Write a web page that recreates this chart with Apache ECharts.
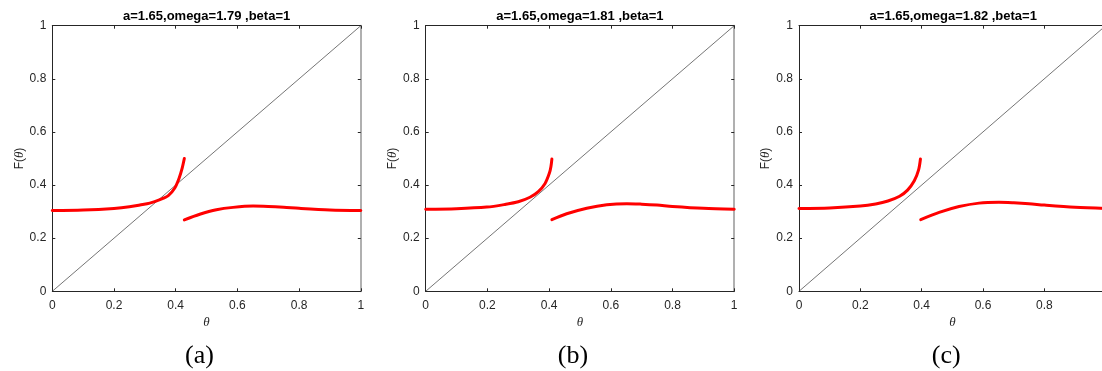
<!DOCTYPE html>
<html>
<head>
<meta charset="utf-8">
<style>
  html, body { margin: 0; padding: 0; background: #fff; overflow: hidden; }
  #chart { width: 1112px; height: 371px; }
</style>
<script src="https://cdn.jsdelivr.net/npm/echarts@6/dist/echarts.min.js"></script>
</head>
<body>
<div id="chart"></div>
<script>
// Panel titles and captions
const panelTitles = [
  'a=1.65,omega=1.79 ,beta=1',
  'a=1.65,omega=1.81 ,beta=1',
  'a=1.65,omega=1.82 ,beta=1'
];
const panelCaptions = ['(a)', '(b)', '(c)'];

// Axis ticks
const xTicks = { min: 0, max: 1, interval: 0.2 };
const yTicks = { min: 0, max: 1, interval: 0.2 };

// Reference line F(θ) = θ
const identityLine = [[0, 0], [1, 1]];

// F(θ) branches, [θ, F(θ)]
const leftBranchA = [[0, 0.304], [0.1, 0.306], [0.2, 0.312], [0.25, 0.318], [0.284, 0.325], [0.316, 0.332],
  [0.349, 0.345], [0.376, 0.36], [0.397, 0.389], [0.411, 0.426], [0.421, 0.464], [0.428, 0.5]];
const rightBranchA = [[0.428, 0.269], [0.478, 0.29], [0.532, 0.307], [0.586, 0.316], [0.651, 0.321],
  [0.7, 0.3195], [0.75, 0.3165], [0.8, 0.3125], [0.9, 0.3065], [1, 0.304]];

const leftBranchB = [[0, 0.309], [0.1, 0.311], [0.198, 0.317], [0.257, 0.327], [0.3, 0.337], [0.338, 0.354],
  [0.365, 0.375], [0.387, 0.406], [0.401, 0.445], [0.406, 0.47], [0.409, 0.498]];
const rightBranchB = [[0.409, 0.27], [0.457, 0.292], [0.522, 0.313], [0.587, 0.326], [0.652, 0.33],
  [0.7, 0.328], [0.75, 0.3245], [0.8, 0.3195], [0.9, 0.3125], [1, 0.309]];

const leftBranchC = [[0, 0.312], [0.1, 0.314], [0.2, 0.321], [0.25, 0.329], [0.29, 0.34], [0.328, 0.358],
  [0.354, 0.381], [0.376, 0.416], [0.39, 0.457], [0.396, 0.498]];
const rightBranchC = [[0.397, 0.27], [0.457, 0.297], [0.522, 0.319], [0.587, 0.332], [0.652, 0.335],
  [0.7, 0.333], [0.75, 0.3295], [0.8, 0.3245], [0.9, 0.3165], [1, 0.312]];

const branches = [
  [leftBranchA, rightBranchA],
  [leftBranchB, rightBranchB],
  [leftBranchC, rightBranchC]
];

// Layout of the three plot boxes
const boxLefts = [52.3, 425.7, 799];
const boxTop = 25.7;
const boxWidth = 308.5;
const boxHeight = 265.6;

const axisColor = '#262626';
const sans = 'Liberation Sans';
const serif = 'Liberation Serif';

const grid = [], xAxis = [], yAxis = [], series = [], graphic = [];

boxLefts.forEach((left, i) => {
  grid.push({ left: left, top: boxTop, width: boxWidth, height: boxHeight, containLabel: false });

  const inner = { show: true, inside: true, length: 3, lineStyle: { color: axisColor, width: 1 } };
  // bottom θ axis
  xAxis.push({
    gridIndex: i, type: 'value', position: 'bottom',
    min: xTicks.min, max: xTicks.max, interval: xTicks.interval,
    axisLine: { onZero: false, lineStyle: { color: axisColor, width: 1 } },
    axisTick: inner,
    axisLabel: { color: axisColor, fontFamily: sans, fontSize: 12, margin: 8, showMaxLabel: true },
    splitLine: { show: false },
    name: 'θ', nameLocation: 'middle', nameGap: 24,
    nameTextStyle: { fontFamily: serif, fontStyle: 'italic', fontSize: 13, color: axisColor }
  });
  // top frame edge
  xAxis.push({
    gridIndex: i, type: 'value', position: 'top',
    min: xTicks.min, max: xTicks.max, interval: xTicks.interval,
    axisLine: { onZero: false, lineStyle: { color: axisColor, width: 1 } },
    axisTick: inner, axisLabel: { show: false }, splitLine: { show: false }
  });
  // left F(θ) axis
  yAxis.push({
    gridIndex: i, type: 'value', position: 'left',
    min: yTicks.min, max: yTicks.max, interval: yTicks.interval,
    axisLine: { show: true, onZero: false, lineStyle: { color: axisColor, width: 1 } },
    axisTick: inner,
    axisLabel: { color: axisColor, fontFamily: sans, fontSize: 12, margin: 6 },
    splitLine: { show: false },
    name: '{s|F(}{t|θ}{s|)}', nameLocation: 'middle', nameGap: 26,
    nameTextStyle: {
      color: axisColor,
      rich: {
        s: { fontFamily: sans, fontSize: 12, color: axisColor },
        t: { fontFamily: serif, fontStyle: 'italic', fontSize: 13, color: axisColor }
      }
    }
  });
  // right frame edge
  yAxis.push({
    gridIndex: i, type: 'value', position: 'right',
    min: yTicks.min, max: yTicks.max, interval: yTicks.interval,
    axisLine: { show: true, onZero: false, lineStyle: { color: '#b0b0b0', width: 2 } },
    axisTick: inner, axisLabel: { show: false }, splitLine: { show: false }
  });

  const xi = i * 2, yi = i * 2;
  series.push({
    type: 'line', xAxisIndex: xi, yAxisIndex: yi, data: identityLine,
    showSymbol: false, silent: true, z: 2,
    lineStyle: { color: '#3a3a3a', width: 0.7 }
  });
  branches[i].forEach(branch => {
    series.push({
      type: 'line', xAxisIndex: xi, yAxisIndex: yi, data: branch,
      showSymbol: false, smooth: 0.3, silent: true, z: 3,
      lineStyle: { color: '#ff0000', width: 3, cap: 'round' }
    });
  });

  const cx = left + boxWidth / 2;
  graphic.push({
    type: 'text', x: cx, y: 16,
    style: { text: panelTitles[i], font: 'bold 13px "Liberation Sans"', fill: '#000',
      textAlign: 'center', textVerticalAlign: 'middle' }
  });
  graphic.push({
    type: 'text', x: cx - 7, y: 356,
    style: { text: panelCaptions[i], font: '26px "Liberation Serif"', fill: '#000',
      textAlign: 'center', textVerticalAlign: 'middle' }
  });
});

const chart = echarts.init(document.getElementById('chart'), null, { renderer: 'canvas' });
chart.setOption({
  animation: false,
  backgroundColor: '#ffffff',
  grid, xAxis, yAxis, series, graphic
});
</script>
</body>
</html>
